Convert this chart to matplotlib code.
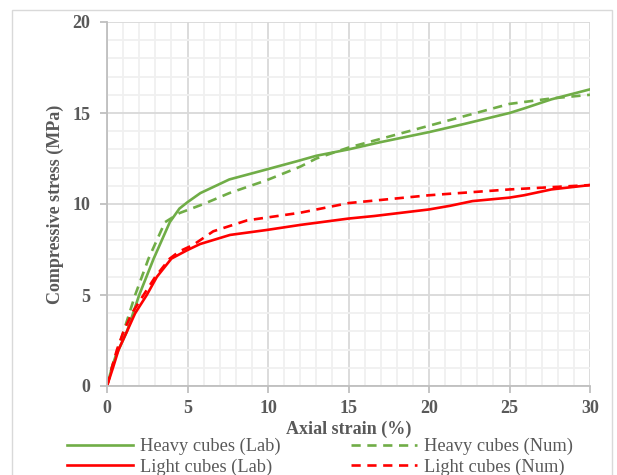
import matplotlib
matplotlib.use("Agg")
import matplotlib.pyplot as plt
from matplotlib.patches import Rectangle

heavy_lab_x = [0, 0.3, 0.52, 1.24, 2.0, 2.9, 3.9, 4.5, 5.0, 5.8, 7.6, 9.5, 10.75, 11.8, 13, 15, 17, 20, 22.2, 25, 25.9, 27.6, 30]
heavy_lab_y = [0, 1.0, 1.6, 3.0, 5.0, 7.0, 9.0, 9.75, 10.1, 10.6, 11.35, 11.8, 12.1, 12.35, 12.65, 13.0, 13.4, 13.95, 14.4, 15.0, 15.25, 15.75, 16.3]

heavy_num_x = [0, 0.3, 1.03, 1.75, 2.58, 3.6, 4.5, 6.0, 7.6, 9.9, 12, 13, 15, 20, 25, 27.6, 30]
heavy_num_y = [0, 1.0, 3.0, 5.0, 7.0, 9.0, 9.5, 10.0, 10.6, 11.3, 12.05, 12.5, 13.1, 14.3, 15.5, 15.8, 16.0]

light_lab_x = [0, 0.37, 0.72, 1.24, 1.75, 2.47, 3.1, 4.0, 4.53, 5.0, 5.78, 7.64, 9.9, 12, 15, 16.6, 20, 21.3, 22.7, 25, 25.9, 27.6, 30]
light_lab_y = [0, 1.0, 2.0, 3.0, 4.0, 5.0, 6.0, 7.0, 7.25, 7.47, 7.8, 8.3, 8.57, 8.85, 9.2, 9.34, 9.7, 9.9, 10.16, 10.35, 10.48, 10.8, 11.04]

light_num_x = [0, 0.3, 0.62, 1.03, 1.55, 2.27, 3.0, 3.9, 4.5, 5.35, 6.6, 8.7, 12, 15, 20, 25, 30]
light_num_y = [0, 1.0, 2.0, 3.0, 4.0, 5.0, 6.0, 7.0, 7.4, 7.75, 8.5, 9.1, 9.52, 10.05, 10.48, 10.8, 11.04]

labels = ["Heavy cubes (Lab)", "Heavy cubes (Num)", "Light cubes (Lab)", "Light cubes (Num)"]
x_ticks = [0, 5, 10, 15, 20, 25, 30]
y_ticks = [0, 5, 10, 15, 20]

plt.rcParams['font.family'] = ['Liberation Serif', 'DejaVu Serif']

fig = plt.figure(figsize=(6.17, 4.75), dpi=100)
fig.patches.append(Rectangle((12/617, -0.1), (612-12)/617, (475-10)/475 + 0.1,
                             transform=fig.transFigure, fill=False,
                             edgecolor='#d9d9d9', linewidth=1.0))
ax = fig.add_axes([107/617, 89/475, 483/617, 364/475])

green = '#70AD47'
red = '#FF0000'
lw = 1.9
dash = (0, (3.5, 2.5))
l1, = ax.plot(heavy_lab_x, heavy_lab_y, color=green, lw=lw, label=labels[0], solid_joinstyle='round')
l2, = ax.plot(heavy_num_x, heavy_num_y, color=green, lw=lw, ls=dash, label=labels[1])
l3, = ax.plot(light_lab_x, light_lab_y, color=red, lw=lw, label=labels[2], solid_joinstyle='round')
l4, = ax.plot(light_num_x, light_num_y, color=red, lw=lw, ls=dash, label=labels[3])

ax.set_xlim(0, 30)
ax.set_ylim(0, 20)
ax.set_xticks(x_ticks)
ax.set_yticks(y_ticks)
ax.set_xticks(range(0, 31), minor=True)
ax.set_yticks(range(0, 21), minor=True)
ax.grid(which='major', color='#d9d9d9', lw=1.3)
ax.grid(which='minor', color='#f0f0f0', lw=1.3)
ax.set_axisbelow(True)
for s in ['top', 'right']:
    ax.spines[s].set_visible(False)
for s in ['left', 'bottom']:
    ax.spines[s].set_color('#bfbfbf')
    ax.spines[s].set_linewidth(1.3)
ax.tick_params(which='major', direction='out', length=5, color='#bfbfbf', width=1.3,
               labelsize=13, labelcolor='#595959')
ax.tick_params(which='minor', length=0)
for t in ax.get_xticklabels() + ax.get_yticklabels():
    t.set_fontweight('bold')
ax.tick_params(axis='y', pad=7)
ax.tick_params(axis='x', pad=5)

ax.set_xlabel('Axial strain (%)', fontsize=13, fontweight='bold', color='#595959', labelpad=3)
ax.set_ylabel('Compressive stress (MPa)', fontsize=13, fontweight='bold', color='#595959', labelpad=6)

leg = fig.legend(handles=[l1, l3, l2, l4], ncol=2, loc='upper left',
                 bbox_to_anchor=(58/617, 1 - 429/475), frameon=False, borderpad=0,
                 fontsize=13.2, handlelength=3.6, handletextpad=0.4,
                 columnspacing=3.8, labelspacing=0.15)
for t in leg.get_texts():
    t.set_color('#595959')

fig.savefig('out.png', dpi=100)
